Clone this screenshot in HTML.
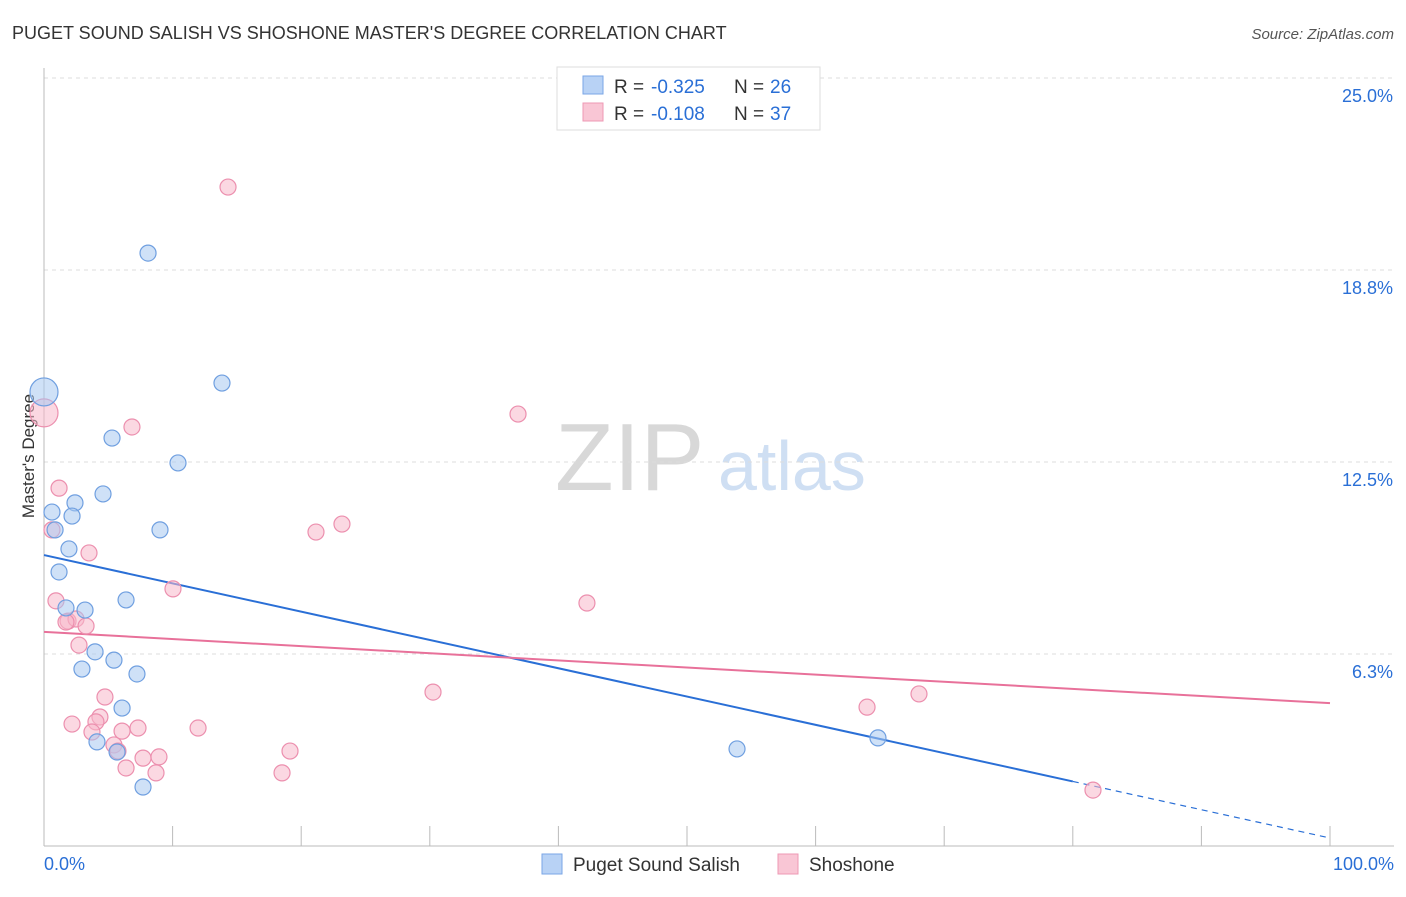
<!DOCTYPE html>
<html><head><meta charset="utf-8">
<style>
body{margin:0;background:#fff;font-family:"Liberation Sans",sans-serif;}
svg text{font-family:"Liberation Sans",sans-serif;}
</style></head>
<body>
<svg id="chart" width="1406" height="892" xmlns="http://www.w3.org/2000/svg">
<text x="12" y="39" font-size="18" fill="#333">PUGET SOUND SALISH VS SHOSHONE MASTER'S DEGREE CORRELATION CHART</text>
<text x="1394" y="39" font-size="15" fill="#555" text-anchor="end" font-style="italic">Source: ZipAtlas.com</text>
<g>
<text x="555" y="490" font-size="96" fill="#d8d8d8" font-family="Liberation Serif">ZIP</text>
<text x="718" y="490" font-size="70" fill="#cfdff3">atlas</text>
</g>
<text transform="translate(34,456) rotate(-90)" font-size="17" fill="#333" text-anchor="middle">Master's Degree</text>
<g id="grid"></g>
<g id="axes"></g>
<g id="lines"></g>
<g id="pts"></g>
<g>
<rect x="557" y="67" width="263" height="63" fill="#fff" stroke="#ddd"/>
<rect x="583" y="76" width="20" height="18" fill="#b8d2f5" stroke="#7aa6e6"/>
<text x="614" y="93" font-size="19" fill="#333">R = </text>
<text x="651" y="93" font-size="19" fill="#2a6fd6">-0.325</text>
<text x="734" y="93" font-size="19" fill="#333">N = </text>
<text x="770" y="93" font-size="19" fill="#2a6fd6">26</text>
<rect x="583" y="103" width="20" height="18" fill="#f9c6d5" stroke="#ee98b4"/>
<text x="614" y="120" font-size="19" fill="#333">R = </text>
<text x="651" y="120" font-size="19" fill="#2a6fd6">-0.108</text>
<text x="734" y="120" font-size="19" fill="#333">N = </text>
<text x="770" y="120" font-size="19" fill="#2a6fd6">37</text>
</g>
<g>
<rect x="542" y="854" width="20" height="20" fill="#b8d2f5" stroke="#7aa6e6"/>
<text x="573" y="871" font-size="19" fill="#333">Puget Sound Salish</text>
<rect x="778" y="854" width="20" height="20" fill="#f9c6d5" stroke="#ee98b4"/>
<text x="809" y="871" font-size="19" fill="#333">Shoshone</text>
</g>
</svg>
<script>
const yTicks=[6.25,12.5,18.75,25];
const yTickLabels=["6.3%","12.5%","18.8%","25.0%"];
const xTickLabels=["0.0%","100.0%"];
const blueX=[0,8.09,13.84,5.29,10.42,4.59,2.41,0.62,2.18,0.86,9.02,1.94,1.17,6.38,1.71,3.19,3.97,5.44,2.95,7.23,6.07,4.12,5.68,7.70,53.89,64.85];
const blueY=[14.78,19.30,15.07,13.28,12.47,11.46,11.17,10.87,10.74,10.29,10.29,9.67,8.92,8.01,7.75,7.68,6.32,6.05,5.76,5.60,4.49,3.39,3.06,1.92,3.16,3.52];
const pinkX=[0,14.31,36.86,6.84,1.17,23.17,21.15,0.62,3.50,10.03,0.93,42.22,1.87,2.49,3.27,1.71,2.72,4.74,30.25,68.04,64.00,2.18,4.35,4.04,7.31,11.98,6.07,3.73,19.13,5.44,5.75,7.70,8.94,6.38,8.71,18.51,81.57];
const pinkY=[14.10,21.45,14.06,13.64,11.65,10.48,10.22,10.29,9.54,8.37,7.98,7.91,7.32,7.39,7.16,7.29,6.54,4.85,5.01,4.95,4.52,3.97,4.20,4.04,3.84,3.84,3.74,3.71,3.09,3.29,3.09,2.86,2.90,2.54,2.38,2.38,1.82];
const blueTrend=[9.47,0.26];
const pinkTrend=[6.97,4.65];
const blueSolidEnd=80;
const NS="http://www.w3.org/2000/svg";
const X=v=>44+v*12.86, Y=v=>846-v*30.72;
function mk(tag,at,parent){const e=document.createElementNS(NS,tag);for(const k in at)e.setAttribute(k,at[k]);document.getElementById(parent).appendChild(e);return e;}
yTicks.forEach((t,i)=>{
 const l=mk('line',{x1:44,x2:1394,y1:Y(t),y2:Y(t),stroke:'#ddd','stroke-dasharray':'4,4'},'grid');
 
 
 const tx=mk('text',{x:1393,y:Y(t)+24,'font-size':18,fill:'#2a6fd6','text-anchor':'end'},'grid');
 tx.textContent=yTickLabels[i];
 
 
});
mk('line',{x1:44,x2:44,y1:68,y2:846,stroke:'#bbb'},'axes');
mk('line',{x1:44,x2:1394,y1:846,y2:846,stroke:'#bbb'},'axes');
for(let i=0;i<=10;i++){const t=mk('line',{x1:X(i*10),x2:X(i*10),y1:826,y2:846,stroke:'#bbb'},'axes');}
[[0,'start',44],[100,'end',1394]].forEach((a,i)=>{const t=mk('text',{x:a[2],y:870,'font-size':18,fill:'#2a6fd6','text-anchor':a[1]},'axes');t.textContent=xTickLabels[i];});
function pts(xs,ys,fill,stroke){xs.forEach((x,i)=>{const r=x===0?14:8;const c=mk('circle',{cx:X(x),cy:Y(ys[i]),r:r,fill:fill,'fill-opacity':0.55,stroke:stroke,'stroke-width':1.2},'pts');});}
pts(pinkX,pinkY,'#f7b8cb','#ec8fae');
pts(blueX,blueY,'#a8c8f0','#6f9fe0');
const by=x=>blueTrend[0]+(blueTrend[1]-blueTrend[0])*x/100;
let l=mk('line',{x1:X(0),y1:Y(by(0)),x2:X(blueSolidEnd),y2:Y(by(blueSolidEnd)),stroke:'#2a6fd6','stroke-width':2},'lines');

l=mk('line',{x1:X(blueSolidEnd),y1:Y(by(blueSolidEnd)),x2:X(100),y2:Y(by(100)),stroke:'#2a6fd6','stroke-width':1.2,'stroke-dasharray':'6,5'},'lines');

l=mk('line',{x1:X(0),y1:Y(pinkTrend[0]),x2:X(100),y2:Y(pinkTrend[1]),stroke:'#e8719a','stroke-width':2},'lines');

</script>
</body></html>
